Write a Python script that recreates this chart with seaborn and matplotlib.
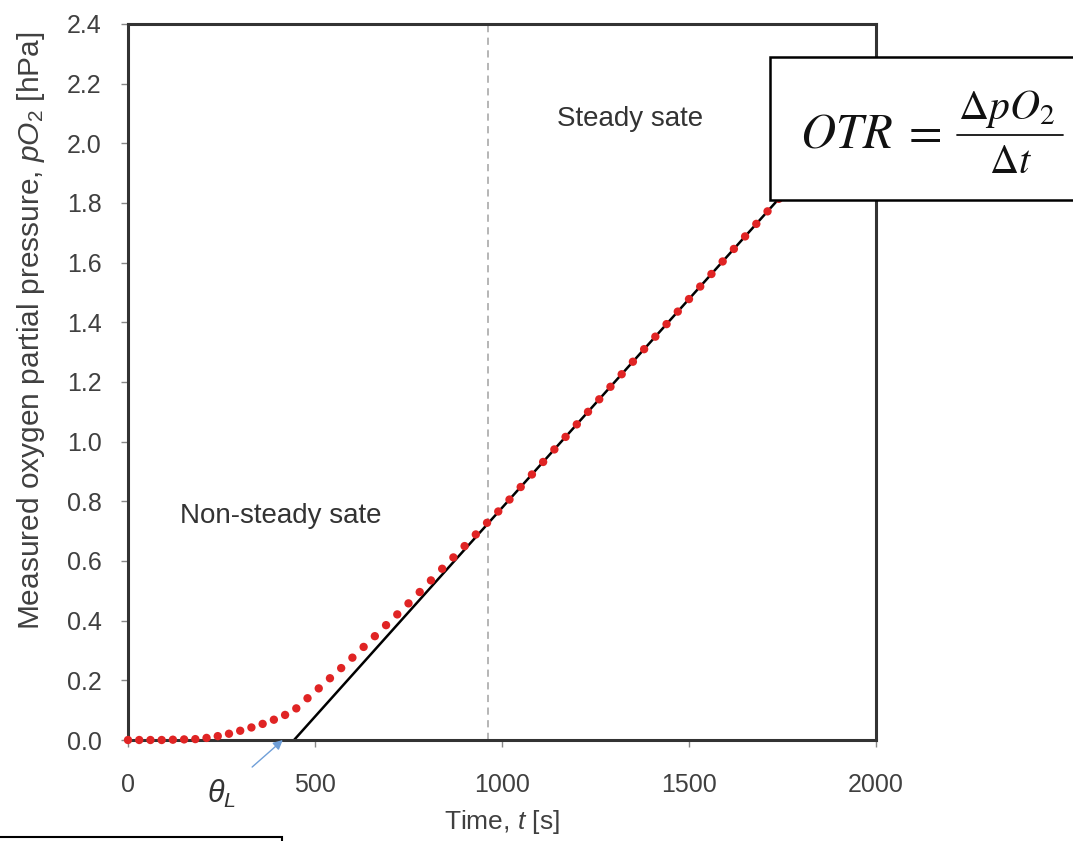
import numpy as np
import pandas as pd
import matplotlib
matplotlib.use("Agg")
import matplotlib.pyplot as plt
import seaborn as sns
from matplotlib.patches import Rectangle
from matplotlib.lines import Line2D

# ---- data ----
time_s = [0, 30, 60, 90, 120, 150, 180, 210, 240, 270, 300, 330, 360, 390, 420,
          450, 480, 510, 540, 570, 600, 630, 660, 690, 720, 750, 780, 810, 840,
          870, 900, 930, 960, 990, 1020, 1050, 1080, 1110, 1140, 1170, 1200,
          1230, 1260, 1290, 1320, 1350, 1380, 1410, 1440, 1470, 1500, 1530,
          1560, 1590, 1620, 1650, 1680, 1710, 1740, 1770, 1800]
po2_hpa = [0.0, 0.0, 0.0, 0.0, 0.001, 0.002, 0.003, 0.007, 0.013, 0.021, 0.031,
           0.042, 0.054, 0.068, 0.084, 0.106, 0.140, 0.173, 0.207, 0.241, 0.276,
           0.312, 0.348, 0.385, 0.421, 0.458, 0.496, 0.535, 0.574, 0.612, 0.650,
           0.689, 0.728, 0.766, 0.806, 0.848, 0.890, 0.932, 0.974, 1.016, 1.058,
           1.100, 1.142, 1.184, 1.226, 1.268, 1.310, 1.352, 1.394, 1.436, 1.478,
           1.520, 1.562, 1.604, 1.646, 1.688, 1.730, 1.772, 1.814, 1.856, 1.898]
fit_t = [444, 1800]
fit_p = [0.0, 1.898]
steady_start_t = 962
theta_L = 414
x_ticks = [0, 500, 1000, 1500, 2000]
y_ticks = [0.0, 0.2, 0.4, 0.6, 0.8, 1.0, 1.2, 1.4, 1.6, 1.8, 2.0, 2.2, 2.4]

df = pd.DataFrame({"t": time_s, "p": po2_hpa})
fit_df = pd.DataFrame({"t": fit_t, "p": fit_p})

sns.set_style("white")
plt.rcParams['font.family'] = ['Liberation Sans', 'DejaVu Sans']
plt.rcParams['mathtext.fontset'] = 'custom'
plt.rcParams['mathtext.it'] = 'Liberation Sans:italic'
plt.rcParams['mathtext.rm'] = 'Liberation Sans'

W, H = 1073, 841
fig = plt.figure(figsize=(W / 100, H / 100), dpi=100)
ax = fig.add_axes([128 / W, 1 - 740 / H, 748 / W, 716 / H])

txt = '#404040'
ax.axvline(steady_start_t, color='#b0b0b0', lw=1.3, ls=(0, (4, 3)), zorder=1)
sns.lineplot(data=fit_df, x="t", y="p", ax=ax, color='black', lw=1.8, zorder=2)
sns.scatterplot(data=df, x="t", y="p", ax=ax, color='#e02424', s=36,
                edgecolor='none', zorder=3, clip_on=False)

ax.set_xlim(0, 2000)
ax.set_ylim(0, 2.4)
ax.set_xticks(x_ticks)
ax.set_yticks(y_ticks)
ax.set_yticklabels([f"{v:.1f}" for v in y_ticks])
for s in ax.spines.values():
    s.set_color('#333333')
    s.set_linewidth(2.2)
ax.tick_params(axis='x', direction='out', length=5, width=1, color='#888888',
               pad=19, labelsize=18, labelcolor=txt, bottom=True)
ax.tick_params(axis='y', direction='out', length=5, width=1, color='#888888',
               pad=14, labelsize=18, labelcolor=txt, left=True)

ax.set_xlabel(r"Time, $t$ [s]", fontsize=19, color=txt, labelpad=8)
ax.set_ylabel(r"Measured oxygen partial pressure, $pO_2$ [hPa]", fontsize=21.5,
              color=txt)
ax.yaxis.set_label_coords(-0.108, 0.572)

ax.text(139, 0.75, "Non-steady sate", fontsize=20, color='#333333', va='center')
ax.text(1147, 2.08, "Steady sate", fontsize=20, color='#333333', va='center')

ax.annotate(r"$\theta_L$", xy=(theta_L, 0.0), xytext=(251, -0.18),
            textcoords='data', fontsize=22, color='#333333',
            ha='center', va='center', annotation_clip=False,
            arrowprops=dict(arrowstyle='-|>', color='#6f9fd8', lw=1,
                            shrinkA=12, shrinkB=0, mutation_scale=14))

# OTR box
fig.add_artist(Rectangle((770 / W, 1 - 200 / H), 0.4, 143 / H,
                         transform=fig.transFigure, facecolor='white',
                         edgecolor='black', lw=1.8, zorder=10, clip_on=False))
fig.text(800 / W, 1 - 147 / H, r"$OTR\;=$", fontsize=35, ha='left',
         va='baseline', zorder=11, math_fontfamily='stix', color='#111111')
fig.text(958 / W, 1 - 119 / H, r"$\Delta pO_2$", fontsize=30, ha='left',
         va='baseline', zorder=11, math_fontfamily='stix', color='#111111')
fig.text(1010 / W, 1 - 173 / H, r"$\Delta t$", fontsize=29, ha='center',
         va='baseline', zorder=11, math_fontfamily='stix', color='#111111')
fig.add_artist(Line2D([957 / W, 1063 / W], [1 - 135 / H, 1 - 135 / H],
                      transform=fig.transFigure, color='#111111', lw=1.3,
                      zorder=11))

# cut-off box at bottom-left
fig.add_artist(Rectangle((-0.01, -0.05), 0.01 + 282 / W, 0.05 + (H - 837) / H,
                         transform=fig.transFigure, facecolor='white',
                         edgecolor='black', lw=1.5, zorder=10, clip_on=False))

fig.savefig("out.png", dpi=100)
